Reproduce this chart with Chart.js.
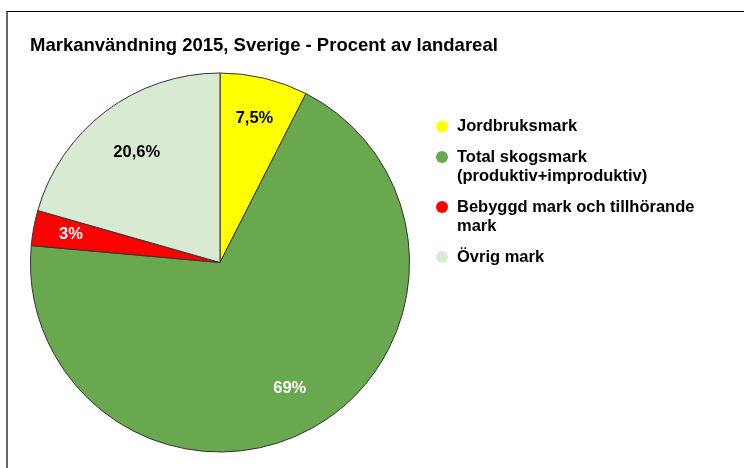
<!DOCTYPE html>
<html>
  <head>
    <title>Markanvändning 2015</title>
    <script src="https://cdn.jsdelivr.net/npm/chart.js"></script>
    <style>
      body { margin: 0; background: #fff; }
      #wrap { position: relative; width: 744px; height: 468px; overflow: hidden; }
      #frame {
        position: absolute; left: 6px; top: 11px; width: 800px; height: 500px;
        border-top: 1px solid #000; border-left: 2px solid #666;
      }
      #pieChart { position: absolute; left: 0; top: 0; }
    </style>
  </head>
  <body>
    <div id="wrap">
      <div id="frame"></div>
      <canvas id="pieChart" width="744" height="468"></canvas>
    </div>

    <script>
      // data
      var title = 'Markanvändning 2015, Sverige - Procent av landareal';
      var categories = [
        ['Jordbruksmark'],
        ['Total skogsmark', '(produktiv+improduktiv)'],
        ['Bebyggd mark och tillhörande', 'mark'],
        ['Övrig mark']
      ];
      var shares = [7.5, 69, 3, 20.6];
      var sliceColors = ['#ffff00', '#6aa84f', '#ff0000', '#d9ead3'];
      var labelColors = ['#000', '#fff', '#fff', '#000'];
      var labelRadius = [0.78, 0.76, 0.8, 0.73]; // fraction of the radius

      var font = '"Liberation Sans", Arial, sans-serif';

      // title drawn by hand so it is not squeezed by the right padding
      var chartTitle = {
        id: 'chartTitle',
        afterDraw: function (chart) {
          var ctx = chart.ctx;
          ctx.save();
          ctx.font = 'bold 18.5px ' + font;
          ctx.fillStyle = '#000';
          ctx.textBaseline = 'middle';
          ctx.fillText(title, 30, 46);
          ctx.restore();
        }
      };

      // percent labels inside the slices
      var sliceLabels = {
        id: 'sliceLabels',
        afterDatasetsDraw: function (chart) {
          var ctx = chart.ctx;
          var meta = chart.getDatasetMeta(0);
          ctx.save();
          ctx.font = 'bold 16.5px ' + font;
          ctx.textAlign = 'center';
          ctx.textBaseline = 'middle';
          meta.data.forEach(function (arc, i) {
            var p = arc.getProps(['x', 'y', 'startAngle', 'endAngle', 'outerRadius'], true);
            var mid = (p.startAngle + p.endAngle) / 2;
            var r = p.outerRadius * labelRadius[i];
            ctx.fillStyle = labelColors[i];
            var txt = String(shares[i]).replace('.', ',') + '%';
            ctx.fillText(txt, p.x + Math.cos(mid) * r, p.y + Math.sin(mid) * r);
          });
          ctx.restore();
        }
      };

      // legend on the right, with wrapped lines
      var sideLegend = {
        id: 'sideLegend',
        afterDraw: function (chart) {
          var ctx = chart.ctx;
          var x = 442, y = 126.5;
          ctx.save();
          ctx.font = 'bold 16.5px ' + font;
          ctx.textBaseline = 'middle';
          chart.data.labels.forEach(function (lines, i) {
            ctx.beginPath();
            ctx.arc(x, y, 6, 0, Math.PI * 2);
            ctx.fillStyle = sliceColors[i];
            ctx.fill();
            ctx.fillStyle = '#000';
            lines.forEach(function (line, j) {
              ctx.fillText(line, x + 15, y + j * 19.5);
            });
            y += (lines.length - 1) * 19.5 + 30.5;
          });
          ctx.restore();
        }
      };

      var ctx = document.getElementById('pieChart').getContext('2d');
      var pieChart = new Chart(ctx, {
        type: 'pie',
        data: {
          labels: categories,
          datasets: [
            {
              data: shares,
              backgroundColor: sliceColors,
              borderColor: '#333',
              borderWidth: 1
            }
          ]
        },
        options: {
          responsive: false,
          devicePixelRatio: 1,
          animation: false,
          layout: { padding: { left: 30, right: 334, top: 72, bottom: 15 } },
          plugins: {
            legend: { display: false },
            tooltip: { enabled: false },
            title: { display: false }
          }
        },
        plugins: [chartTitle, sliceLabels, sideLegend]
      });
    </script>
  </body>
</html>
